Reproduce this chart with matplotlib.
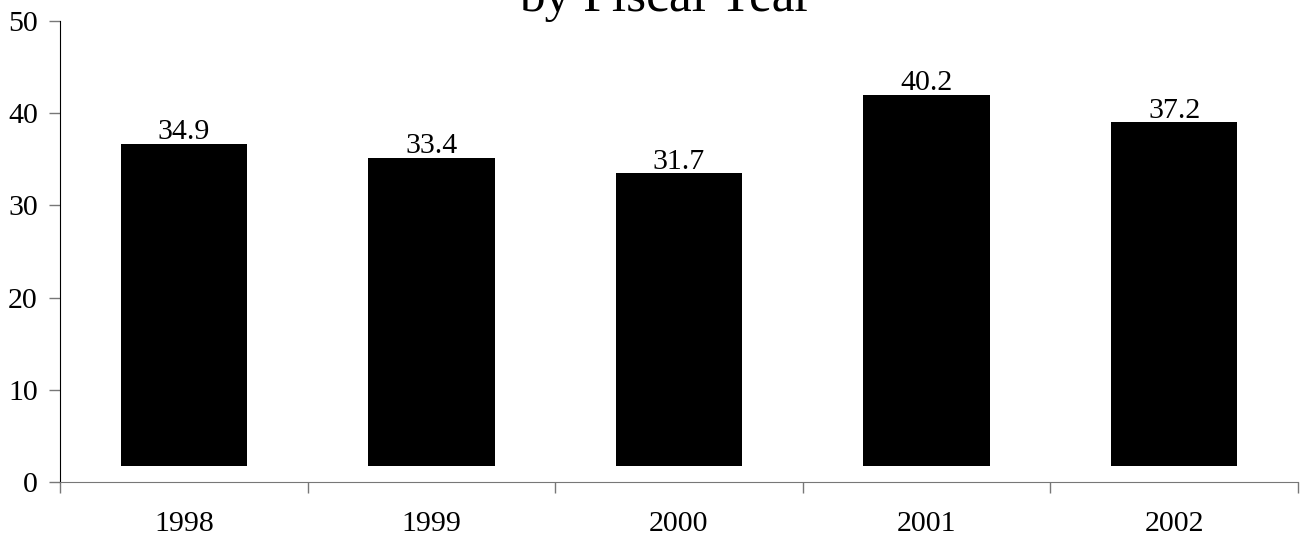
import matplotlib.pyplot as plt
import numpy as np

years = ['1998', '1999', '2000', '2001', '2002']
values = [34.9, 33.4, 31.7, 40.2, 37.2]
base = 1.8

plt.rcParams['font.family'] = 'Liberation Serif'

fig = plt.figure(figsize=(13.01, 5.41), dpi=100)
ax = fig.add_axes([60 / 1301, 1 - 482.2 / 541, 1238 / 1301, 461.2 / 541])

x = np.arange(len(years)) + 0.5
ax.bar(x, values, width=0.51, bottom=base, color='black')
for xi, v in zip(x, values):
    ax.annotate(f'{v:.1f}', (xi, base + v), xytext=(0, 3.2), textcoords='offset points',
                ha='center', va='baseline', fontsize=21.5)

ax.set_xlim(0, len(years))
ax.set_ylim(0, 50)
ax.set_yticks(range(0, 51, 10))
ax.set_xticks(np.arange(len(years) + 1))
ax.set_xticklabels([])
ax.set_xticks(x, minor=True)
ax.set_xticklabels(years, minor=True, fontsize=21.5)
ax.tick_params(axis='x', which='minor', length=0, pad=21)
ax.tick_params(axis='x', which='major', length=8, color='#777777', width=1)
ax.tick_params(axis='y', length=8, color='#777777', width=1, labelsize=21.5, pad=8)

for s in ['top', 'right']:
    ax.spines[s].set_visible(False)
ax.spines['left'].set_color('black')
ax.spines['bottom'].set_color('#777777')

fig.text(665 / 1301, 1 - 10.5 / 541, 'by Fiscal Year', ha='center', va='baseline', fontsize=37)

fig.savefig('out.png', dpi=100)
